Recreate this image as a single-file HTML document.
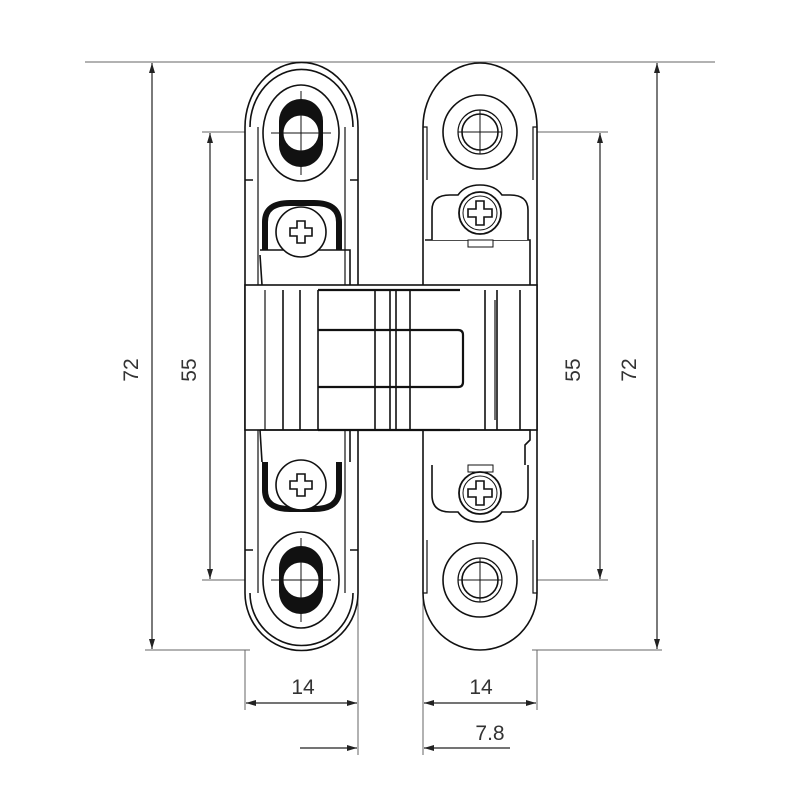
<!DOCTYPE html>
<html><head><style>
html,body{margin:0;padding:0;background:#fff}
svg{display:block}
text{font-family:"Liberation Sans",sans-serif;font-size:21px;fill:#333}
</style></head><body>
<svg width="800" height="800" viewBox="0 0 800 800" xmlns="http://www.w3.org/2000/svg">
<defs>
<marker id="a" viewBox="0 0 10 10" refX="10" refY="5" markerWidth="10" markerHeight="10" orient="auto-start-reverse" markerUnits="userSpaceOnUse"><path d="M0,2 L10,5 L0,8 z" fill="#222"/></marker>
<g id="scr">
<circle r="25" fill="#fff" stroke="#111" stroke-width="1.6"/>
<path d="M-4,-11 h8 v7 h7 v8 h-7 v7 h-8 v-7 h-7 v-8 h7 z" fill="none" stroke="#111" stroke-width="1.6"/>
</g>
<g id="scr2">
<circle r="21" fill="#fff" stroke="#111" stroke-width="1.8"/>
<circle r="17" fill="none" stroke="#111" stroke-width="1"/>
<path d="M-4,-12 h8 v8 h8 v8 h-8 v8 h-8 v-8 h-8 v-8 h8 z" fill="none" stroke="#111" stroke-width="1.6"/>
</g>
<g id="slot">
<ellipse rx="38" ry="48" fill="#fff" stroke="#111" stroke-width="1.6"/>
<rect x="-22" y="-34" width="44" height="68" rx="22" fill="#111"/>
<circle r="18" fill="#fff" stroke="#111" stroke-width="1"/>
<path d="M-30,0 H30 M0,-42 V42" stroke="#111" stroke-width="1"/>
</g>
<g id="hole">
<circle r="37" fill="#fff" stroke="#111" stroke-width="1.6"/>
<circle r="22" fill="none" stroke="#111" stroke-width="1.2"/>
<circle r="18" fill="none" stroke="#111" stroke-width="1.6"/>
<path d="M-22,0 H22 M0,-22 V22" stroke="#111" stroke-width="1"/>
</g>
</defs>

<g stroke="#666" stroke-width="1" fill="none">
<line x1="85" y1="62" x2="715" y2="62"/>
<line x1="145" y1="650" x2="250" y2="650"/>
<line x1="532" y1="650" x2="662" y2="650"/>
<line x1="202" y1="132" x2="270" y2="132"/>
<line x1="202" y1="580" x2="270" y2="580"/>
<line x1="510" y1="132" x2="608" y2="132"/>
<line x1="510" y1="580" x2="608" y2="580"/>
<line x1="245" y1="650" x2="245" y2="710"/>
<line x1="358" y1="430" x2="358" y2="755"/>
<line x1="423" y1="430" x2="423" y2="755"/>
<line x1="537" y1="650" x2="537" y2="710"/>
</g>
<g stroke="#222" stroke-width="1.2" fill="none">
<line x1="152" y1="63" x2="152" y2="649" marker-start="url(#a)" marker-end="url(#a)"/>
<line x1="210" y1="133" x2="210" y2="579" marker-start="url(#a)" marker-end="url(#a)"/>
<line x1="600" y1="133" x2="600" y2="579" marker-start="url(#a)" marker-end="url(#a)"/>
<line x1="657" y1="63" x2="657" y2="649" marker-start="url(#a)" marker-end="url(#a)"/>
<line x1="246" y1="703" x2="357" y2="703" marker-start="url(#a)" marker-end="url(#a)"/>
<line x1="424" y1="703" x2="536" y2="703" marker-start="url(#a)" marker-end="url(#a)"/>
<line x1="300" y1="748" x2="357" y2="748" marker-end="url(#a)"/>
<line x1="510" y1="748" x2="424" y2="748" marker-end="url(#a)"/>
</g>
<text x="138" y="370" transform="rotate(-90 138 370)" text-anchor="middle">72</text>
<text x="196" y="370" transform="rotate(-90 196 370)" text-anchor="middle">55</text>
<text x="580" y="370" transform="rotate(-90 580 370)" text-anchor="middle">55</text>
<text x="636" y="370" transform="rotate(-90 636 370)" text-anchor="middle">72</text>
<text x="303" y="694" text-anchor="middle">14</text>
<text x="481" y="694" text-anchor="middle">14</text>
<text x="490" y="740" text-anchor="middle">7.8</text>

<g stroke="#111" stroke-width="1.6" fill="none">
<path d="M245,127 A56,64 0 0 1 358,127 V593 A56,57 0 0 1 245,593 Z" fill="#fff"/>
<path d="M250,127 A51,57 0 0 1 353,127" />
<path d="M250,593 A51,52 0 0 0 353,593" />
<path d="M258,127 V593 M345,127 V593" stroke-width="1.2"/>
<path d="M245,180 h8 M350,180 h8 M245,550 h8 M350,550 h8" />
<path d="M423,127 A57,64 0 0 1 537,127 V593 A57,57 0 0 1 423,593 Z" fill="#fff"/>
<path d="M423,127 h4 V180 M537,127 h-4 V180 M423,593 h4 V540 M537,593 h-4 V540" stroke-width="1.2"/>
<rect x="245" y="285" width="292" height="145" fill="#fff"/>
<path d="M260,250 L350,250 V285 M260,255 L262,285 M260,430 L350,430 V462 M260,430 L262,462"/>
<path d="M425,240 H530 V285 M425,430 H530 V440 L525,445 V465"/>
<path d="M283,290 V430 M300,290 V430 M318,290 V430 M375,290 V430 M390,290 V430 M396,290 V430 M410,290 V430 M485,290 V430 M497,290 V430 M520,290 V430"/>
<path d="M318,290 H460 M318,330 H458 Q463,330 463,335 V382 Q463,387 458,387 H318 M318,430 H460" stroke-width="2.2"/>
<path d="M265,290 V430 M495,300 V420" stroke-width="1.2"/>
</g>
<!-- left hinge parts -->
<path d="M265,250 V222 Q265,203 290,203 H314 Q339,203 339,222 V250" fill="none" stroke="#111" stroke-width="6"/>
<use href="#scr" x="301" y="232"/>
<path d="M265,462 V490 Q265,509 290,509 H314 Q339,509 339,490 V462" fill="none" stroke="#111" stroke-width="6"/>
<use href="#scr" x="301" y="485"/>
<use href="#slot" x="301" y="133"/>
<use href="#slot" x="301" y="580"/>
<!-- right hinge parts -->
<path d="M432,240 V210 Q432,195 450,195 H458 Q465,185 480,185 Q495,185 502,195 H510 Q528,195 528,210 V240" fill="#fff" stroke="#111" stroke-width="1.6"/>
<path d="M432,465 V495 Q432,512 450,512 H458 Q465,522 480,522 Q495,522 502,512 H510 Q528,512 528,495 V465" fill="#fff" stroke="#111" stroke-width="1.6"/>
<rect x="468" y="240" width="25" height="7" fill="#fff" stroke="#111"/>
<rect x="468" y="465" width="25" height="7" fill="#fff" stroke="#111"/>
<use href="#scr2" x="480" y="213"/>
<use href="#scr2" x="480" y="493"/>
<use href="#hole" x="480" y="132"/>
<use href="#hole" x="480" y="580"/>
</svg>
</body></html>
